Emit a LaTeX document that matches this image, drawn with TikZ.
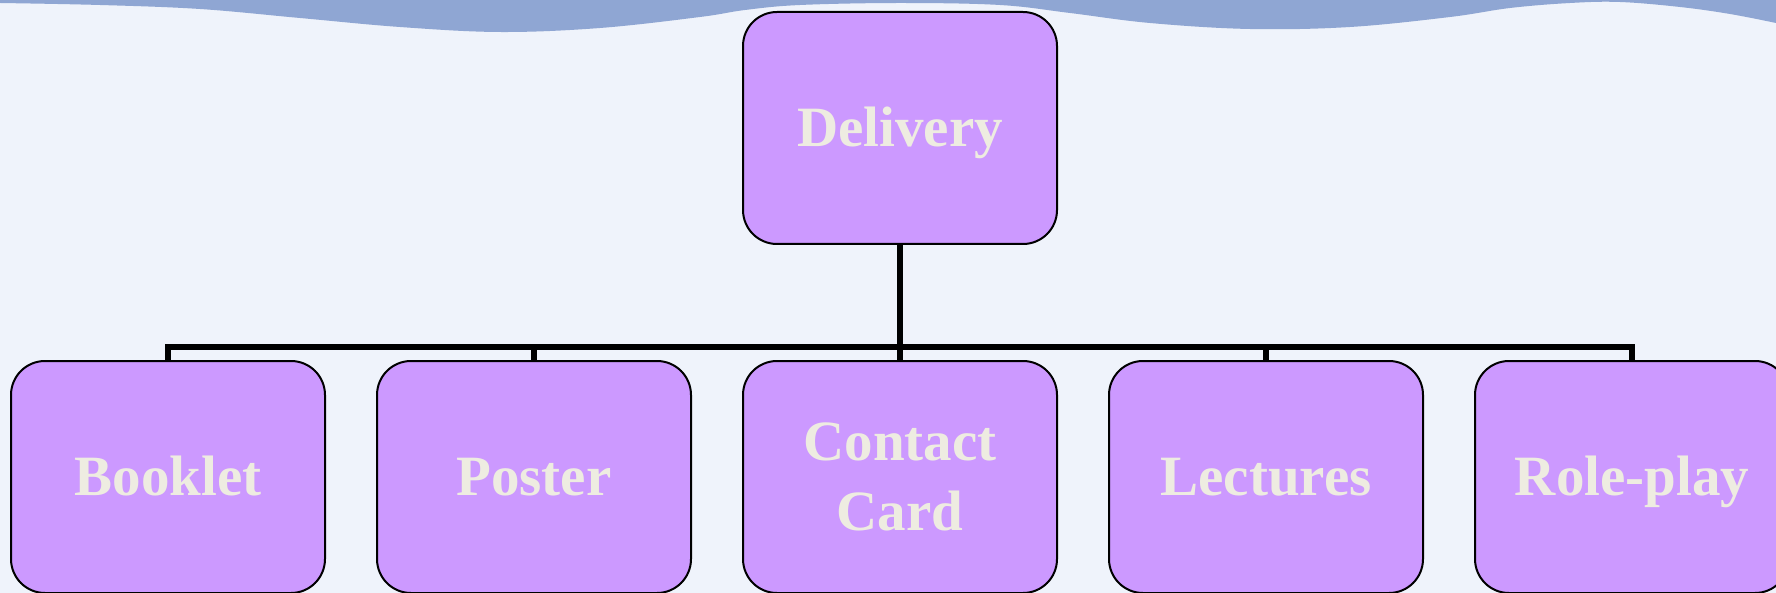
\documentclass[tikz,border=0pt]{standalone}
\usepackage{fontspec}
\setmainfont{Liberation Serif}
\definecolor{bgcol}{HTML}{EFF3FB}
\definecolor{bandcol}{HTML}{8FA6D3}
\definecolor{boxfill}{HTML}{CC99FF}
\definecolor{txtcol}{HTML}{EEECE1}
\begin{document}
\begin{tikzpicture}[x=0.5pt,y=-0.5pt,
  box/.style={draw=black, line width=1pt, fill=boxfill, rounded corners=17pt,
    minimum width=157pt, minimum height=116pt, inner sep=0pt, text=txtcol,
    font=\fontsize{28.5pt}{35pt}\selectfont\bfseries, align=center},
  oneline/.style={text height=18.8pt, text depth=0pt},
  conn/.style={draw=black, line width=2.6pt}]
\fill[bgcol] (0,0) rectangle (1776,593);
\useasboundingbox (0,0) rectangle (1776,593);
\fill[bandcol] (0,-2) -- plot[smooth, tension=0.6] coordinates {(0,3) (100,5) (200,9) (300,18) (400,27) (500,32) (600,28) (700,17) (745,10) (800,5) (900,3) (1000,5) (1070,13) (1150,23) (1250,29) (1350,27) (1450,17) (1510,8) (1570,3) (1620,2) (1680,7) (1730,14) (1776,23)} -- (1776,-2) -- cycle;
\node[box, oneline] (del) at (900,128) {Delivery};
\node[box, oneline] (b1) at (168,477) {Booklet};
\node[box, oneline] (b2) at (534,477) {Poster};
\node[box] (b3) at (900,477) {Contact\\Card};
\node[box, oneline] (b4) at (1266,477) {Lectures};
\node[box, oneline] (b5) at (1632,477) {Role-play};
\coordinate (j) at (900,347);
\draw[conn] (del.south) -- (b3.north);
\draw[conn] (b1.north) |- (j) -| (b5.north);
\draw[conn] (b2.north) -- (b2.north |- j);
\draw[conn] (b4.north) -- (b4.north |- j);
\end{tikzpicture}
\end{document}
